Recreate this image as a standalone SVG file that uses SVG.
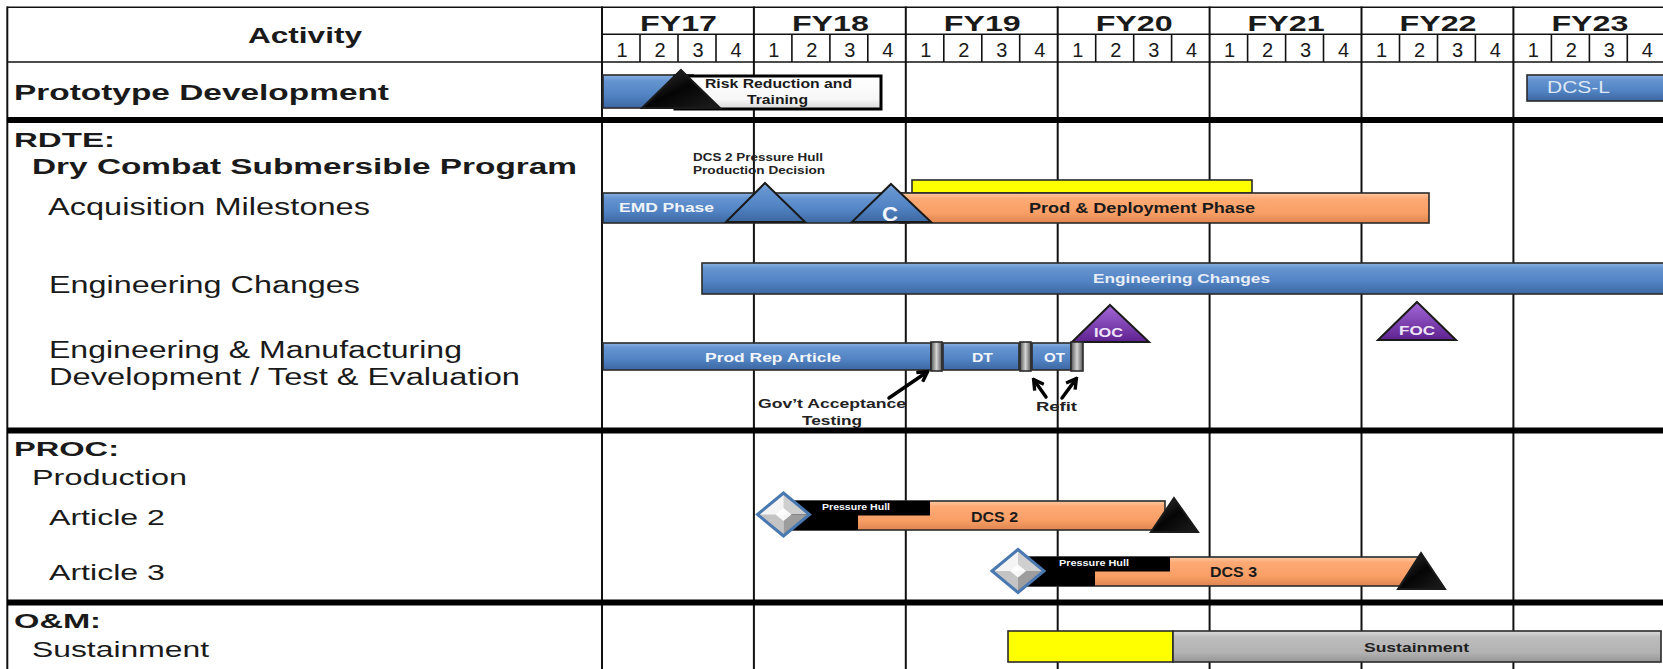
<svg xmlns="http://www.w3.org/2000/svg" width="1663" height="669" viewBox="0 0 1663 669">
  <style>
    .lbl { font-family: "Liberation Sans", Arial, sans-serif; fill: #1a1a1a; }
    .b { font-weight: bold; }
    .hdr { font-family: "Liberation Sans", Arial, sans-serif; font-weight: bold; font-size: 22px; fill: #1a1a1a; text-anchor: middle; }
    .q { font-family: "Liberation Sans", Arial, sans-serif; font-size: 20px; fill: #1a1a1a; text-anchor: middle; }
    .bar { font-family: "Liberation Sans", Arial, sans-serif; font-weight: bold; }
    .grid { stroke: #111; stroke-width: 2; fill: none; }
    .thin { stroke: #111; stroke-width: 1.6; fill: none; }
    .thick { stroke: #000; stroke-width: 6; }
    .outl { stroke: #2a2a2a; stroke-width: 1.6; }
    .tri { stroke: #1a1a1a; stroke-width: 2; stroke-linejoin: miter; }
    .arrow { stroke: #000; stroke-width: 3.5; fill: none; stroke-linecap: round; }
  </style>
  <defs>
    <linearGradient id="gBlue" x1="0" y1="0" x2="0" y2="1">
      <stop offset="0" stop-color="#8ab1e2"/>
      <stop offset="0.18" stop-color="#6594d0"/>
      <stop offset="0.6" stop-color="#5283c3"/>
      <stop offset="1" stop-color="#3c68a2"/>
    </linearGradient>
    <linearGradient id="gOrange" x1="0" y1="0" x2="0" y2="1">
      <stop offset="0" stop-color="#ffc9a2"/>
      <stop offset="0.18" stop-color="#fdaa76"/>
      <stop offset="0.65" stop-color="#f99f66"/>
      <stop offset="1" stop-color="#de8651"/>
    </linearGradient>
    <linearGradient id="gGray" x1="0" y1="0" x2="0" y2="1">
      <stop offset="0" stop-color="#dcdcdc"/>
      <stop offset="0.2" stop-color="#bdbdbd"/>
      <stop offset="0.7" stop-color="#b2b2b2"/>
      <stop offset="1" stop-color="#959595"/>
    </linearGradient>
    <linearGradient id="gSep" x1="0" y1="0" x2="1" y2="0">
      <stop offset="0" stop-color="#555"/>
      <stop offset="0.5" stop-color="#d4d4d4"/>
      <stop offset="1" stop-color="#555"/>
    </linearGradient>
    <linearGradient id="gPurple" x1="0" y1="0" x2="0" y2="1">
      <stop offset="0" stop-color="#a468d8"/>
      <stop offset="1" stop-color="#5e2290"/>
    </linearGradient>
    <linearGradient id="gBlack" x1="0" y1="0" x2="1" y2="1">
      <stop offset="0" stop-color="#3a3a3a"/>
      <stop offset="0.5" stop-color="#050505"/>
      <stop offset="1" stop-color="#1e1e1e"/>
    </linearGradient>
    <linearGradient id="gWhite" x1="0" y1="0" x2="0" y2="1">
      <stop offset="0" stop-color="#ffffff"/>
      <stop offset="0.7" stop-color="#f7f7f7"/>
      <stop offset="1" stop-color="#d9d9d9"/>
    </linearGradient>
    <marker id="chev" viewBox="0 0 10 10" refX="8" refY="5" markerWidth="14" markerHeight="14" markerUnits="userSpaceOnUse" orient="auto">
      <path d="M1.5,1 L8.5,5 L1.5,9" fill="none" stroke="#000" stroke-width="2.4"/>
    </marker>
    <!-- beveled silver diamond, centred on the origin -->
    <g id="diamond">
      <polygon points="-26,0 0,-21.5 0,0" fill="#f4f4f4"/>
      <polygon points="0,-21.5 26,0 0,0" fill="#cfcfcf"/>
      <polygon points="-26,0 0,21.5 0,0" fill="#c4c4c4"/>
      <polygon points="0,21.5 26,0 0,0" fill="#9d9d9d"/>
      <polygon points="-8,0 0,-6.5 8,0 0,6.5" fill="#ffffff" opacity="0.9"/>
      <polygon points="-26,0 0,-21.5 26,0 0,21.5" fill="none" stroke="#4a78b0" stroke-width="3"/>
    </g>
  </defs>

  <rect width="1663" height="669" fill="#ffffff"/>

  <!-- table grid -->
  <g id="grid">
    <line class="thin" x1="7" y1="7.3" x2="1663" y2="7.3"/>
    <line class="thin" x1="602" y1="34.3" x2="1663" y2="34.3"/>
    <line class="thin" x1="7" y1="62" x2="1663" y2="62"/>
    <line class="grid" x1="7.3" y1="6.5" x2="7.3" y2="669"/>
    <line class="grid" x1="602" y1="6.5" x2="602" y2="669"/>
    <line class="grid" x1="753.9" y1="6.5" x2="753.9" y2="669"/>
    <line class="grid" x1="905.8" y1="6.5" x2="905.8" y2="669"/>
    <line class="grid" x1="1057.7" y1="6.5" x2="1057.7" y2="669"/>
    <line class="grid" x1="1209.6" y1="6.5" x2="1209.6" y2="669"/>
    <line class="grid" x1="1361.5" y1="6.5" x2="1361.5" y2="669"/>
    <line class="grid" x1="1513.4" y1="6.5" x2="1513.4" y2="669"/>
    <!-- quarter dividers -->
    <g class="thin">
      <line x1="640" y1="34.3" x2="640" y2="62"/>
      <line x1="678" y1="34.3" x2="678" y2="62"/>
      <line x1="716" y1="34.3" x2="716" y2="62"/>
      <line x1="791.9" y1="34.3" x2="791.9" y2="62"/>
      <line x1="829.9" y1="34.3" x2="829.9" y2="62"/>
      <line x1="867.8" y1="34.3" x2="867.8" y2="62"/>
      <line x1="943.8" y1="34.3" x2="943.8" y2="62"/>
      <line x1="981.8" y1="34.3" x2="981.8" y2="62"/>
      <line x1="1019.7" y1="34.3" x2="1019.7" y2="62"/>
      <line x1="1095.7" y1="34.3" x2="1095.7" y2="62"/>
      <line x1="1133.7" y1="34.3" x2="1133.7" y2="62"/>
      <line x1="1171.6" y1="34.3" x2="1171.6" y2="62"/>
      <line x1="1247.6" y1="34.3" x2="1247.6" y2="62"/>
      <line x1="1285.6" y1="34.3" x2="1285.6" y2="62"/>
      <line x1="1323.5" y1="34.3" x2="1323.5" y2="62"/>
      <line x1="1399.5" y1="34.3" x2="1399.5" y2="62"/>
      <line x1="1437.5" y1="34.3" x2="1437.5" y2="62"/>
      <line x1="1475.4" y1="34.3" x2="1475.4" y2="62"/>
      <line x1="1551.4" y1="34.3" x2="1551.4" y2="62"/>
      <line x1="1589.4" y1="34.3" x2="1589.4" y2="62"/>
      <line x1="1627.3" y1="34.3" x2="1627.3" y2="62"/>
    </g>
    <line class="thick" x1="7" y1="120" x2="1663" y2="120"/>
    <line class="thick" x1="7" y1="430.5" x2="1663" y2="430.5"/>
    <line class="thick" x1="7" y1="602.5" x2="1663" y2="602.5"/>
  </g>

  <!-- column headers -->
  <g id="header">
    <text class="hdr" x="305" y="43" textLength="114" lengthAdjust="spacingAndGlyphs">Activity</text>
    <text class="hdr" x="678.5" y="30.5" textLength="77" lengthAdjust="spacingAndGlyphs">FY17</text>
    <text class="hdr" x="830.4" y="30.5" textLength="77" lengthAdjust="spacingAndGlyphs">FY18</text>
    <text class="hdr" x="982.3" y="30.5" textLength="77" lengthAdjust="spacingAndGlyphs">FY19</text>
    <text class="hdr" x="1134.2" y="30.5" textLength="77" lengthAdjust="spacingAndGlyphs">FY20</text>
    <text class="hdr" x="1286.1" y="30.5" textLength="77" lengthAdjust="spacingAndGlyphs">FY21</text>
    <text class="hdr" x="1438" y="30.5" textLength="77" lengthAdjust="spacingAndGlyphs">FY22</text>
    <text class="hdr" x="1589.9" y="30.5" textLength="77" lengthAdjust="spacingAndGlyphs">FY23</text>
    <g class="q">
      <text x="622" y="57">1</text><text x="660" y="57">2</text><text x="698" y="57">3</text><text x="736" y="57">4</text>
      <text x="773.9" y="57">1</text><text x="811.9" y="57">2</text><text x="849.9" y="57">3</text><text x="887.8" y="57">4</text>
      <text x="925.8" y="57">1</text><text x="963.8" y="57">2</text><text x="1001.8" y="57">3</text><text x="1039.7" y="57">4</text>
      <text x="1077.7" y="57">1</text><text x="1115.7" y="57">2</text><text x="1153.7" y="57">3</text><text x="1191.6" y="57">4</text>
      <text x="1229.6" y="57">1</text><text x="1267.6" y="57">2</text><text x="1305.6" y="57">3</text><text x="1343.5" y="57">4</text>
      <text x="1381.5" y="57">1</text><text x="1419.5" y="57">2</text><text x="1457.5" y="57">3</text><text x="1495.4" y="57">4</text>
      <text x="1533.4" y="57">1</text><text x="1571.4" y="57">2</text><text x="1609.4" y="57">3</text><text x="1647.3" y="57">4</text>
    </g>
  </g>

  <!-- activity labels -->
  <g id="labels" class="lbl">
    <text class="b" x="14" y="100" font-size="22" textLength="375" lengthAdjust="spacingAndGlyphs">Prototype Development</text>
    <text class="b" x="14" y="147" font-size="20" textLength="101" lengthAdjust="spacingAndGlyphs">RDTE:</text>
    <text class="b" x="32" y="174" font-size="22" textLength="545" lengthAdjust="spacingAndGlyphs">Dry Combat Submersible Program</text>
    <text x="48" y="215" font-size="23" textLength="322" lengthAdjust="spacingAndGlyphs">Acquisition Milestones</text>
    <text x="49" y="293" font-size="23" textLength="311" lengthAdjust="spacingAndGlyphs">Engineering Changes</text>
    <text x="49" y="358" font-size="23" textLength="413" lengthAdjust="spacingAndGlyphs">Engineering &amp; Manufacturing</text>
    <text x="49" y="385" font-size="23" textLength="471" lengthAdjust="spacingAndGlyphs">Development / Test &amp; Evaluation</text>
    <text class="b" x="14" y="456" font-size="20" textLength="105" lengthAdjust="spacingAndGlyphs">PROC:</text>
    <text x="32" y="485" font-size="22" textLength="155" lengthAdjust="spacingAndGlyphs">Production</text>
    <text x="49" y="525" font-size="22" textLength="116" lengthAdjust="spacingAndGlyphs">Article 2</text>
    <text x="49" y="580" font-size="22" textLength="116" lengthAdjust="spacingAndGlyphs">Article 3</text>
    <text class="b" x="14" y="628" font-size="20" textLength="87" lengthAdjust="spacingAndGlyphs">O&amp;M:</text>
    <text x="32" y="657" font-size="22" textLength="177" lengthAdjust="spacingAndGlyphs">Sustainment</text>
  </g>

  <!-- Prototype Development -->
  <g id="prototype-bar">
    <rect class="outl" x="603" y="75" width="90" height="33" fill="url(#gBlue)"/>
  </g>
  <g id="risk-reduction">
    <rect x="675" y="76" width="206" height="33" fill="url(#gWhite)" stroke="#000" stroke-width="3"/>
    <text class="bar" x="705" y="88" font-size="12" fill="#1a1a1a" textLength="147" lengthAdjust="spacingAndGlyphs">Risk Reduction and</text>
    <text class="bar" x="747" y="104" font-size="12" fill="#1a1a1a" textLength="61" lengthAdjust="spacingAndGlyphs">Training</text>
  </g>
  <g id="prototype-milestone">
    <polygon class="tri" points="681,70 720,108 642,108" fill="url(#gBlack)"/>
  </g>
  <g id="dcs-l">
    <rect class="outl" x="1527" y="75" width="145" height="26" fill="url(#gBlue)"/>
    <text x="1547" y="93" font-family="Liberation Sans, Arial, sans-serif" font-size="17" fill="#dde7f5" textLength="63" lengthAdjust="spacingAndGlyphs">DCS-L</text>
  </g>

  <!-- Acquisition milestones -->
  <g id="prod-funding">
    <rect x="912" y="180" width="340" height="13" fill="#ffff00" stroke="#2a2a2a" stroke-width="1.6"/>
  </g>
  <g id="emd-phase">
    <rect class="outl" x="603" y="193" width="306" height="30" fill="url(#gBlue)"/>
    <text class="bar" x="619" y="212" font-size="13" fill="#eef3fa" textLength="95" lengthAdjust="spacingAndGlyphs">EMD Phase</text>
  </g>
  <g id="prod-deployment">
    <rect class="outl" x="900" y="193" width="529" height="30" fill="url(#gOrange)"/>
    <text class="bar" x="1029" y="213" font-size="14" fill="#1a1a1a" textLength="226" lengthAdjust="spacingAndGlyphs">Prod &amp; Deployment Phase</text>
  </g>
  <g id="pressure-hull-decision">
    <polygon class="tri" points="765,183 805,222 726,222" fill="url(#gBlue)"/>
    <text class="bar" x="693" y="161" font-size="10" fill="#222" textLength="130" lengthAdjust="spacingAndGlyphs">DCS 2 Pressure Hull</text>
    <text class="bar" x="693" y="174" font-size="10" fill="#222" textLength="132" lengthAdjust="spacingAndGlyphs">Production Decision</text>
  </g>
  <g id="milestone-c">
    <polygon class="tri" points="891,184 931,222 852,222" fill="url(#gBlue)"/>
    <text class="bar" x="882" y="221" font-size="20" fill="#f2f6fb" textLength="16" lengthAdjust="spacingAndGlyphs">C</text>
  </g>

  <!-- Engineering changes -->
  <g id="engineering-changes">
    <rect class="outl" x="702" y="263" width="968" height="31" fill="url(#gBlue)"/>
    <text class="bar" x="1093" y="283" font-size="13" fill="#e8eef8" textLength="177" lengthAdjust="spacingAndGlyphs">Engineering Changes</text>
  </g>

  <!-- EMD / T&E -->
  <g id="ioc">
    <polygon class="tri" points="1110,305 1149,342 1072,342" fill="url(#gPurple)"/>
    <text class="bar" x="1094" y="337" font-size="12" fill="#efe6f8" textLength="29" lengthAdjust="spacingAndGlyphs">IOC</text>
  </g>
  <g id="foc">
    <polygon class="tri" points="1417,302 1456,340 1378,340" fill="url(#gPurple)"/>
    <text class="bar" x="1399" y="335" font-size="12" fill="#efe6f8" textLength="36" lengthAdjust="spacingAndGlyphs">FOC</text>
  </g>
  <g id="prod-rep-article">
    <rect class="outl" x="603" y="343" width="328" height="27" fill="url(#gBlue)"/>
    <text class="bar" x="705" y="362" font-size="13" fill="#f3f6fb" textLength="136" lengthAdjust="spacingAndGlyphs">Prod Rep Article</text>
  </g>
  <g id="acceptance-test">
    <rect class="outl" x="931" y="342" width="11" height="29" fill="url(#gSep)"/>
  </g>
  <g id="dt">
    <rect class="outl" x="943" y="343" width="76" height="27" fill="url(#gBlue)"/>
    <text class="bar" x="972" y="362" font-size="13" fill="#f3f6fb" textLength="21" lengthAdjust="spacingAndGlyphs">DT</text>
  </g>
  <g id="refit-1">
    <rect class="outl" x="1020" y="342" width="11" height="29" fill="url(#gSep)"/>
  </g>
  <g id="ot">
    <rect class="outl" x="1032" y="343" width="39" height="27" fill="url(#gBlue)"/>
    <text class="bar" x="1044" y="362" font-size="13" fill="#f3f6fb" textLength="21" lengthAdjust="spacingAndGlyphs">OT</text>
  </g>
  <g id="refit-2">
    <rect class="outl" x="1071" y="342" width="12" height="29" fill="url(#gSep)"/>
  </g>
  <g id="callouts" class="lbl">
    <text class="bar" x="758" y="408" font-size="13" fill="#222" textLength="148" lengthAdjust="spacingAndGlyphs">Gov’t Acceptance</text>
    <text class="bar" x="802" y="425" font-size="13" fill="#222" textLength="60" lengthAdjust="spacingAndGlyphs">Testing</text>
    <text class="bar" x="1036" y="411" font-size="13" fill="#222" textLength="41" lengthAdjust="spacingAndGlyphs">Refit</text>
  </g>

  <!-- Production articles -->
  <g id="article-2">
    <rect class="outl" x="788" y="501" width="377" height="29" fill="url(#gOrange)"/>
    <rect x="788" y="501" width="142" height="14.5" fill="#000"/>
    <rect x="788" y="515" width="70" height="15" fill="#000"/>
    <text class="bar" x="822" y="510" font-size="9" fill="#f4f7fc" textLength="68" lengthAdjust="spacingAndGlyphs">Pressure Hull</text>
    <text class="bar" x="971" y="522" font-size="14" fill="#1a1a1a" textLength="47" lengthAdjust="spacingAndGlyphs">DCS 2</text>
    <polygon class="tri" points="1174,498 1198,532 1151,532" fill="url(#gBlack)"/>
    <use href="#diamond" x="783.5" y="514.5"/>
  </g>
  <g id="article-3">
    <rect class="outl" x="1021" y="557" width="400" height="29" fill="url(#gOrange)"/>
    <rect x="1021" y="557" width="149" height="14.5" fill="#000"/>
    <rect x="1021" y="571" width="74" height="15" fill="#000"/>
    <text class="bar" x="1059" y="566" font-size="9" fill="#f4f7fc" textLength="70" lengthAdjust="spacingAndGlyphs">Pressure Hull</text>
    <text class="bar" x="1210" y="577" font-size="14" fill="#1a1a1a" textLength="47" lengthAdjust="spacingAndGlyphs">DCS 3</text>
    <polygon class="tri" points="1421,553 1445,589 1398,589" fill="url(#gBlack)"/>
    <use href="#diamond" x="1018" y="571"/>
  </g>

  <!-- Sustainment -->
  <g id="sustainment-lead">
    <rect class="outl" x="1008" y="631" width="165" height="31" fill="#ffff00"/>
  </g>
  <g id="sustainment">
    <rect class="outl" x="1173" y="631" width="488" height="31" fill="url(#gGray)"/>
    <text class="bar" x="1364" y="652" font-size="13" fill="#222" textLength="105" lengthAdjust="spacingAndGlyphs">Sustainment</text>
  </g>

  <!-- callout arrows -->
  <g id="connectors">
    <line class="arrow" x1="889" y1="398" x2="927" y2="372" marker-end="url(#chev)"/>
    <line class="arrow" x1="1046" y1="397" x2="1034" y2="380" marker-end="url(#chev)"/>
    <line class="arrow" x1="1062" y1="398" x2="1076" y2="379" marker-end="url(#chev)"/>
  </g>
</svg>
